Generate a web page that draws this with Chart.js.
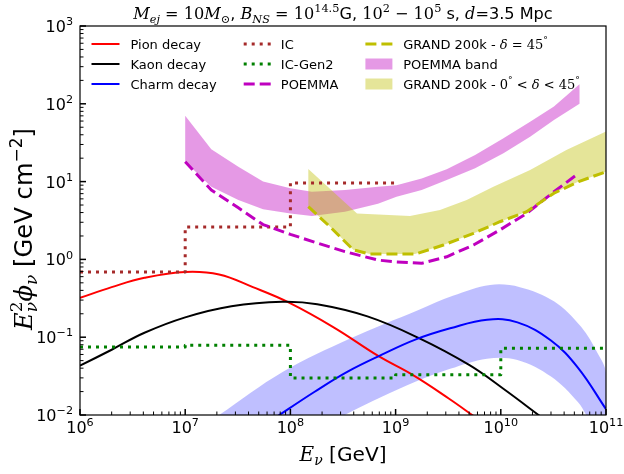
<!DOCTYPE html>
<html>
<head>
<meta charset="utf-8">
<script src="https://cdn.jsdelivr.net/npm/chart.js@4.4.1/dist/chart.umd.min.js"></script>
<style>
  body { margin: 0; background: #fff; }
  canvas { display: block; }
</style>
</head>
<body>
<canvas id="fluxChart" width="624" height="474"></canvas>
<script>
// energies in GeV, fluxes E^2 phi in GeV cm^-2
const pionE = [1e6, 2e6, 4.1e6, 1e7, 2.1e7, 4.4e7, 9.6e7, 2.6e8, 6.9e8, 1.44e9, 3.2e9, 5.7e9];
const pionFlux = [0.32, 0.44, 0.58, 0.69, 0.64, 0.44, 0.28, 0.133, 0.057, 0.033, 0.0163, 0.0094];

const kaonE = [1e6, 2e6, 4.1e6, 1e7, 2.75e7, 8.4e7, 1.8e8, 5.4e8, 1.65e9, 5e9, 1.05e10, 2.56e10];
const kaonFlux = [0.043, 0.069, 0.114, 0.18, 0.25, 0.285, 0.265, 0.185, 0.098, 0.044, 0.0219, 0.0089];

const charmE = [6.9e7, 1.7e8, 3.5e8, 7.4e8, 1.56e9, 3.3e9, 7.4e9, 1.44e10, 3e10, 5.4e10, 1e11];
const charmFlux = [0.0089, 0.0199, 0.0361, 0.0596, 0.0937, 0.13, 0.168, 0.155, 0.0907, 0.0407, 0.0119];

const charmBandHiE = [2.1e7, 8.5e7, 3.7e8, 1.65e9, 3.5e9, 7.9e9, 1.52e10, 3.2e10, 5.8e10, 8.4e10, 1e11];
const charmBandHi = [0.01, 0.036, 0.096, 0.224, 0.34, 0.47, 0.44, 0.29, 0.136, 0.061, 0.035];
const charmBandLoE = [2.8e8, 7.4e8, 1.56e9, 3.3e9, 7.4e9, 1.44e10, 3e10, 5.4e10, 6.8e10, 1e11];
const charmBandLo = [0.009, 0.0171, 0.0269, 0.0392, 0.053, 0.051, 0.0312, 0.0147, 0.009, 0.004];

const icE = [1e6, 1e7, 1e7, 1e8, 1e8, 1e9];
const icFlux = [0.69, 0.69, 2.6, 2.6, 9.6, 9.6];

const gen2E = [1e6, 1e7, 1e7, 1e8, 1e8, 1e9, 1e9, 1e10, 1e10, 1e11];
const gen2Flux = [0.075, 0.075, 0.079, 0.079, 0.030, 0.030, 0.033, 0.033, 0.072, 0.072];

const poemmaE = [1e7, 1.77e7, 3.2e7, 5.5e7, 1e8, 1.83e8, 3.3e8, 6.8e8, 1e9, 1.77e9, 3.06e9, 5.5e9, 9.8e9, 1.76e10, 3.2e10, 5.5e10];
const poemmaFlux = [18, 7.8, 4.6, 2.8, 2.1, 1.61, 1.26, 0.98, 0.93, 0.89, 1.08, 1.53, 2.39, 3.9, 7.4, 12.8];

const poemmaBandE = [1e7, 1.77e7, 3.2e7, 5.5e7, 1e8, 1.6e8, 3.3e8, 6.8e8, 1.02e9, 1.77e9, 3.06e9, 5.7e9, 1.06e10, 1.9e10, 3.2e10, 5.6e10];
const poemmaBandHi = [70, 26, 15.5, 10, 8.2, 7.4, 7.8, 8.6, 9.0, 11, 14.4, 22, 36, 59, 92, 178];
const poemmaBandLo = [18, 8.6, 5.8, 4.4, 3.9, 3.6, 4.1, 5.2, 6.4, 7.8, 10.5, 14.8, 23.1, 37.8, 62, 100];

const grandE = [1.48e8, 2.4e8, 3.96e8, 5.7e8, 1.53e9, 2.85e9, 5.5e9, 9.8e9, 1.76e10, 3.2e10, 5.5e10, 1e11];
const grandFlux = [4.76, 2.6, 1.33, 1.17, 1.17, 1.53, 2.16, 3.05, 4.1, 7.1, 10, 13.4];
const grandBandHiE = [1.48e8, 4.3e8, 1.37e9, 2.64e9, 4.74e9, 8.5e9, 1.9e10, 4.2e10, 1e11];
const grandBandHi = [14.5, 3.9, 3.6, 4.3, 5.8, 8.6, 14.1, 25.5, 44];

const xTickExp = [6, 7, 8, 9, 10, 11];
const yTickExp = [-2, -1, 0, 1, 2, 3];

const SANS = '"DejaVu Sans"';
const SERIF = '"DejaVu Serif"';

const pts = (E, F) => E.map((e, i) => ({ x: e, y: F[i] }));
// closed outline: upper edge left to right, then lower edge back
const outline = (E1, F1, E2, F2) => pts(E1, F1).concat(pts(E2, F2).reverse());

function line(data, color, width, dash, order, smooth) {
  return {
    data, borderColor: color, borderWidth: width, borderDash: dash || [],
    borderCapStyle: 'butt', borderJoinStyle: 'round', fill: false, order, clip: 0,
    tension: smooth ? 0.4 : 0,
  };
}
function band(data, color, order, smooth) {
  return {
    data, borderWidth: 0, borderColor: 'rgba(0,0,0,0)', backgroundColor: color,
    fill: 'shape', order, clip: 0, tension: smooth ? 0.35 : 0,
  };
}

const DOT = [3, 5];
const DASH = [11, 5];

// ---- rich text (mathtext-ish) ----
function fontFor(kind, size) {
  if (kind === 'i') return `italic ${size}px ${SERIF}`;
  if (kind === 'r') return `${size}px ${SERIF}`;
  return `${size}px ${SANS}`;
}
// segment: [text, kind, pos]  pos 0 normal, 1 sup, -1 sub, 2 sup stacked over next sub
function layoutRich(ctx, segs, size) {
  let x = 0, pend = 0;
  const items = [];
  for (const [t, k, p] of segs) {
    const sz = p ? size * 0.7 : size;
    const f = fontFor(k, sz);
    ctx.font = f;
    const w = ctx.measureText(t).width;
    const dy = (p === 1 || p === 2) ? -0.42 * size : (p === -1 ? 0.22 * size : 0);
    items.push({ t, f, x, dy });
    if (p === 2) pend = w; else { x += Math.max(w, pend); pend = 0; }
  }
  return { items, width: x };
}
function drawRich(ctx, segs, size, x, y, align) {
  const L = layoutRich(ctx, segs, size);
  const x0 = align === 'center' ? x - L.width / 2 : (align === 'right' ? x - L.width : x);
  ctx.textAlign = 'left';
  ctx.textBaseline = 'alphabetic';
  for (const it of L.items) { ctx.font = it.f; ctx.fillText(it.t, x0 + it.x, y + it.dy); }
}
function fitSize(ctx, segs, target) {
  return 20 * target / layoutRich(ctx, segs, 20).width;
}
const sup = n => String(n).replace('-', '\u2212');

const decorations = {
  id: 'decorations',
  afterDraw(chart) {
    const { ctx, chartArea: a, scales } = chart;
    ctx.save();
    ctx.fillStyle = '#000';
    ctx.strokeStyle = '#000';

    // frame
    ctx.lineWidth = 1.2;
    ctx.setLineDash([]);
    ctx.strokeRect(a.left, a.top, a.right - a.left, a.bottom - a.top);

    // ticks (inward, left and bottom)
    for (let e = 6; e <= 11; e++) {
      for (let m = 1; m <= 9; m++) {
        const v = m * Math.pow(10, e);
        if (v > 1e11) break;
        const px = scales.x.getPixelForValue(v);
        ctx.lineWidth = m === 1 ? 1.5 : 1;
        ctx.beginPath();
        ctx.moveTo(px, a.bottom);
        ctx.lineTo(px, a.bottom - (m === 1 ? 6 : 3.5));
        ctx.stroke();
      }
    }
    for (let e = -2; e <= 3; e++) {
      for (let m = 1; m <= 9; m++) {
        const v = m * Math.pow(10, e);
        if (v > 1e3) break;
        const py = scales.y.getPixelForValue(v);
        ctx.lineWidth = m === 1 ? 1.5 : 1;
        ctx.beginPath();
        ctx.moveTo(a.left, py);
        ctx.lineTo(a.left + (m === 1 ? 6 : 3.5), py);
        ctx.stroke();
      }
    }

    // tick labels
    xTickExp.forEach(e => {
      drawRich(ctx, [['10', 's', 0], [sup(e), 's', 1]], 16, scales.x.getPixelForValue(Math.pow(10, e)), 433, 'center');
    });
    yTickExp.forEach(e => {
      drawRich(ctx, [['10', 's', 0], [sup(e), 's', 1]], 16, 73, scales.y.getPixelForValue(Math.pow(10, e)) + 6, 'right');
    });

    // title
    const title = [['M', 'i', 0], ['ej', 'i', -1], [' = 10', 'r', 0], ['M', 'i', 0], ['\u2299', 'r', -1], [', ', 's', 0],
      ['B', 'i', 0], ['NS', 'i', -1], [' = 10', 'r', 0], ['14.5', 'r', 1], ['G, ', 's', 0],
      ['10', 'r', 0], ['2', 'r', 1], [' \u2212 10', 'r', 0], ['5', 'r', 1], [' s, ', 's', 0],
      ['d', 'i', 0], ['=3.5 Mpc', 's', 0]];
    drawRich(ctx, title, fitSize(ctx, title, 420), 343, 19, 'center');

    // axis labels
    const xLab = [['E', 'i', 0], ['\u03bd', 'i', -1], [' [GeV]', 's', 0]];
    drawRich(ctx, xLab, fitSize(ctx, xLab, 87), 343, 461, 'center');
    const yLab = [['E', 'i', 0], ['2', 'r', 2], ['\u03bd', 'i', -1], ['\u03d5', 'i', 0], ['\u03bd', 'i', -1],
      [' [GeV cm', 's', 0], ['\u22122', 's', 1], [']', 's', 0]];
    ctx.save();
    ctx.translate(32, 229);
    ctx.rotate(-Math.PI / 2);
    drawRich(ctx, yLab, fitSize(ctx, yLab, 202), 0, 0, 'center');
    ctx.restore();

    // legend
    const rows = [44, 64, 84];
    const entries = [
      { col: 0, row: 0, color: '#ff0000', w: 2, dash: [], label: [['Pion decay', 's', 0]] },
      { col: 0, row: 1, color: '#000000', w: 2, dash: [], label: [['Kaon decay', 's', 0]] },
      { col: 0, row: 2, color: '#0000ff', w: 2, dash: [], label: [['Charm decay', 's', 0]] },
      { col: 1, row: 0, color: '#a52a2a', w: 3, dash: DOT, label: [['IC', 's', 0]] },
      { col: 1, row: 1, color: '#008000', w: 3, dash: DOT, label: [['IC-Gen2', 's', 0]] },
      { col: 1, row: 2, color: '#bf00bf', w: 3, dash: DASH, label: [['POEMMA', 's', 0]] },
      { col: 2, row: 0, color: '#bfbf00', w: 3, dash: DASH, label: [['GRAND 200k - ', 's', 0], ['\u03b4', 'i', 0], [' = 45', 'r', 0], ['\u00b0', 'r', 1]] },
      { col: 2, row: 1, patch: 'rgba(191,0,191,0.4)', label: [['POEMMA band', 's', 0]] },
      { col: 2, row: 2, patch: 'rgba(191,191,0,0.4)', label: [['GRAND 200k - ', 's', 0], ['0', 'r', 0], ['\u00b0', 'r', 1], [' < ', 'r', 0], ['\u03b4', 'i', 0], [' < 45', 'r', 0], ['\u00b0', 'r', 1]] },
    ];
    const cols = [{ x0: 91.5, tx: 130.5 }, { x0: 243.7, tx: 280.8 }, { x0: 365.4, tx: 403.2 }];
    entries.forEach(en => {
      const c = cols[en.col];
      const y = rows[en.row];
      if (en.patch) {
        ctx.fillStyle = en.patch;
        ctx.fillRect(c.x0, y - 5.5, 27, 11);
      } else {
        ctx.strokeStyle = en.color;
        ctx.lineWidth = en.w;
        ctx.lineCap = 'butt';
        ctx.setLineDash(en.dash);
        ctx.beginPath();
        ctx.moveTo(c.x0, y);
        ctx.lineTo(c.x0 + 28, y);
        ctx.stroke();
        ctx.setLineDash([]);
      }
      ctx.fillStyle = '#000';
      drawRich(ctx, en.label, 13, c.tx, y + 4.7, 'left');
    });
    ctx.restore();
  }
};

const ctx = document.getElementById('fluxChart').getContext('2d');
new Chart(ctx, {
  type: 'line',
  data: {
    datasets: [
      line(pts(grandE, grandFlux), '#bfbf00', 3, DASH, 1),
      line(pts(poemmaE, poemmaFlux), '#bf00bf', 3, DASH, 2),
      line(pts(gen2E, gen2Flux), '#008000', 3, DOT, 3),
      line(pts(icE, icFlux), '#a52a2a', 3, DOT, 4),
      line(pts(charmE, charmFlux), '#0000ff', 2, null, 5, true),
      line(pts(kaonE, kaonFlux), '#000000', 2, null, 6, true),
      line(pts(pionE, pionFlux), '#ff0000', 2, null, 7, true),
      band(outline(charmBandHiE, charmBandHi, charmBandLoE, charmBandLo), 'rgba(0,0,255,0.25)', 8, true),
      band(outline(grandBandHiE, grandBandHi, grandE, grandFlux), 'rgba(191,191,0,0.4)', 9),
      band(outline(poemmaBandE, poemmaBandHi, poemmaBandE, poemmaBandLo), 'rgba(191,0,191,0.4)', 10),
    ],
  },
  options: {
    responsive: false,
    animation: false,
    devicePixelRatio: 1,
    layout: { padding: { top: 26, right: 18, left: 0, bottom: 0 } },
    elements: { point: { radius: 0, hitRadius: 0 } },
    plugins: { legend: { display: false }, tooltip: { enabled: false }, title: { display: false } },
    scales: {
      x: {
        type: 'logarithmic', min: 1e6, max: 1e11,
        grid: { display: false }, border: { display: false }, ticks: { display: false },
        afterFit(s) { s.height = 59; },
      },
      y: {
        type: 'logarithmic', min: 1e-2, max: 1e3,
        grid: { display: false }, border: { display: false }, ticks: { display: false },
        afterFit(s) { s.width = 80; },
      },
    },
  },
  plugins: [decorations],
});
</script>
</body>
</html>
